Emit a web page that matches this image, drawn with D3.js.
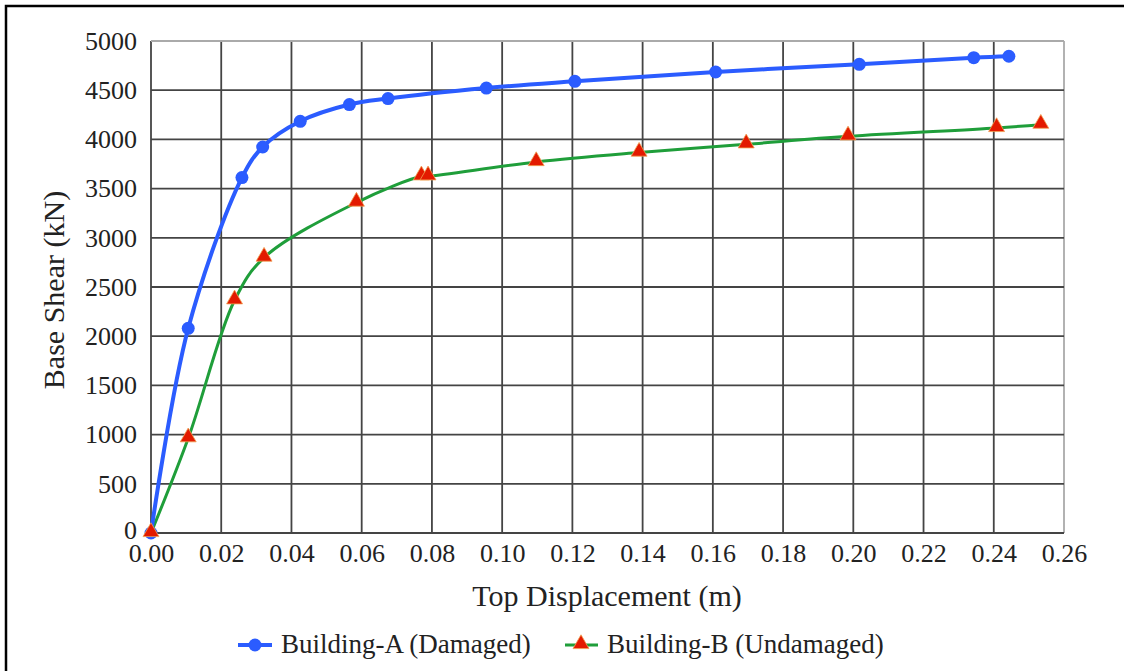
<!DOCTYPE html>
<html>
<head>
<meta charset="utf-8">
<script src="https://cdn.jsdelivr.net/npm/d3@7"></script>
<style>
  body { margin: 0; background: #fff; }
  svg { display: block; font-family: "Liberation Serif", "Times New Roman", serif; }
</style>
</head>
<body>
<svg width="1124" height="671"></svg>
<script>
// ---- data ----
const dispA = [0, 0.0106, 0.0259, 0.0318, 0.0425, 0.0565, 0.0675, 0.0955, 0.1207, 0.1608, 0.2017, 0.2343, 0.2443];
const shearA = [0, 2080, 3612, 3923, 4184, 4354, 4415, 4522, 4590, 4685, 4763, 4831, 4845];
const dispB = [0, 0.0106, 0.0238, 0.0322, 0.0585, 0.0770, 0.0789, 0.1097, 0.1390, 0.1695, 0.1985, 0.2408, 0.2534];
const shearB = [0, 963, 2365, 2799, 3358, 3625, 3625, 3770, 3866, 3950, 4031, 4116, 4150];
const xTicks = [0, 0.02, 0.04, 0.06, 0.08, 0.10, 0.12, 0.14, 0.16, 0.18, 0.20, 0.22, 0.24, 0.26];
const yTicks = [0, 500, 1000, 1500, 2000, 2500, 3000, 3500, 4000, 4500, 5000];
const seriesNames = ['Building-A (Damaged)', 'Building-B (Undamaged)'];

const svg = d3.select('svg');
const plotLeft = 151, plotTop = 41, plotRight = 1064, plotBottom = 533;

// outer frame
svg.append('rect')
    .attr('x', 6).attr('y', 6)
    .attr('width', 1140).attr('height', 700)
    .attr('fill', 'none').attr('stroke', '#000').attr('stroke-width', 2.5);

const x = d3.scaleLinear().domain([0, 0.26]).range([plotLeft, plotRight]);
const y = d3.scaleLinear().domain([0, 5000]).range([plotBottom, plotTop]);

// ----------------------------------------------------------
//                      grid
// ----------------------------------------------------------
const grid = svg.append('g');
grid.selectAll('.vx').data(xTicks).enter().append('line')
    .attr('x1', d => x(d)).attr('x2', d => x(d))
    .attr('y1', plotTop).attr('y2', plotBottom)
    .attr('stroke', (d, i) => i === xTicks.length - 1 ? '#aaa' : '#444')
    .attr('stroke-width', 1.8);
grid.selectAll('.hy').data(yTicks).enter().append('line')
    .attr('x1', plotLeft).attr('x2', plotRight)
    .attr('y1', d => y(d)).attr('y2', d => y(d))
    .attr('stroke', (d, i) => i === yTicks.length - 1 ? '#aaa' : '#444')
    .attr('stroke-width', 1.8);

// ----------------------------------------------------------
//                      axes
// ----------------------------------------------------------
const xAxis = svg.append('g')
    .attr('transform', `translate(0, ${plotBottom})`)
    .call(d3.axisBottom(x).tickValues(xTicks).tickFormat(d3.format('.2f')).tickSize(0).tickPadding(11));
const yAxis = svg.append('g')
    .attr('transform', `translate(${plotLeft}, 0)`)
    .call(d3.axisLeft(y).tickValues(yTicks).tickFormat(d3.format('d')).tickSize(0).tickPadding(14));
[xAxis, yAxis].forEach(a => {
    a.select('.domain').remove();
    a.selectAll('text')
        .attr('font-family', '"Liberation Serif", serif')
        .attr('font-size', 26)
        .attr('fill', '#222');
});
// the zero label sits a touch higher so it clears 0.00
yAxis.selectAll('text').filter(d => d === 0).attr('dy', '0.2em');

svg.append('text')
    .attr('x', 607).attr('y', 606)
    .attr('text-anchor', 'middle')
    .attr('font-size', 30).attr('fill', '#222')
    .text('Top Displacement (m)');
svg.append('text')
    .attr('transform', `translate(64, 290) rotate(-90)`)
    .attr('text-anchor', 'middle')
    .attr('font-size', 30).attr('fill', '#222')
    .text('Base Shear (kN)');

// ----------------------------------------------------------
//                      lines + markers
// ----------------------------------------------------------
const ptsA = dispA.map((d, i) => [d, shearA[i]]);
const ptsB = dispB.map((d, i) => [d, shearB[i]]);
const line = d3.line().x(d => x(d[0])).y(d => y(d[1])).curve(d3.curveCatmullRom.alpha(0.5));

svg.append('path').datum(ptsB)
    .attr('d', line).attr('fill', 'none')
    .attr('stroke', '#1f9e3a').attr('stroke-width', 3);
svg.append('path').datum(ptsA)
    .attr('d', line).attr('fill', 'none')
    .attr('stroke', '#2b5cff').attr('stroke-width', 4);

const tri = d3.symbol().type(d3.symbolTriangle).size(110);
svg.selectAll('.ma').data(ptsA).enter().append('circle')
    .attr('cx', d => x(d[0])).attr('cy', d => y(d[1]))
    .attr('r', 6.5).attr('fill', '#2b5cff');
svg.selectAll('.mb').data(ptsB).enter().append('path')
    .attr('d', tri)
    .attr('transform', d => `translate(${x(d[0])}, ${y(d[1]) - 1})`)
    .attr('fill', '#e31a00').attr('stroke', '#f0a050').attr('stroke-width', 0.8);

// ----------------------------------------------------------
//                      legend
// ----------------------------------------------------------
const ly = 645;
const legA = svg.append('g');
legA.append('line').attr('x1', 238).attr('x2', 272).attr('y1', ly).attr('y2', ly)
    .attr('stroke', '#2b5cff').attr('stroke-width', 4);
legA.append('circle').attr('cx', 255).attr('cy', ly).attr('r', 6.5).attr('fill', '#2b5cff');
legA.append('text').attr('x', 281).attr('y', ly + 8).attr('font-size', 27).attr('fill', '#222')
    .text(seriesNames[0]);

const legB = svg.append('g');
legB.append('line').attr('x1', 565).attr('x2', 598).attr('y1', ly).attr('y2', ly)
    .attr('stroke', '#1f9e3a').attr('stroke-width', 3);
legB.append('path').attr('d', tri).attr('transform', `translate(581, ${ly - 1})`)
    .attr('fill', '#e31a00').attr('stroke', '#f0a050').attr('stroke-width', 0.8);
legB.append('text').attr('x', 607).attr('y', ly + 8).attr('font-size', 27).attr('fill', '#222')
    .text(seriesNames[1]);
</script>
</body>
</html>
